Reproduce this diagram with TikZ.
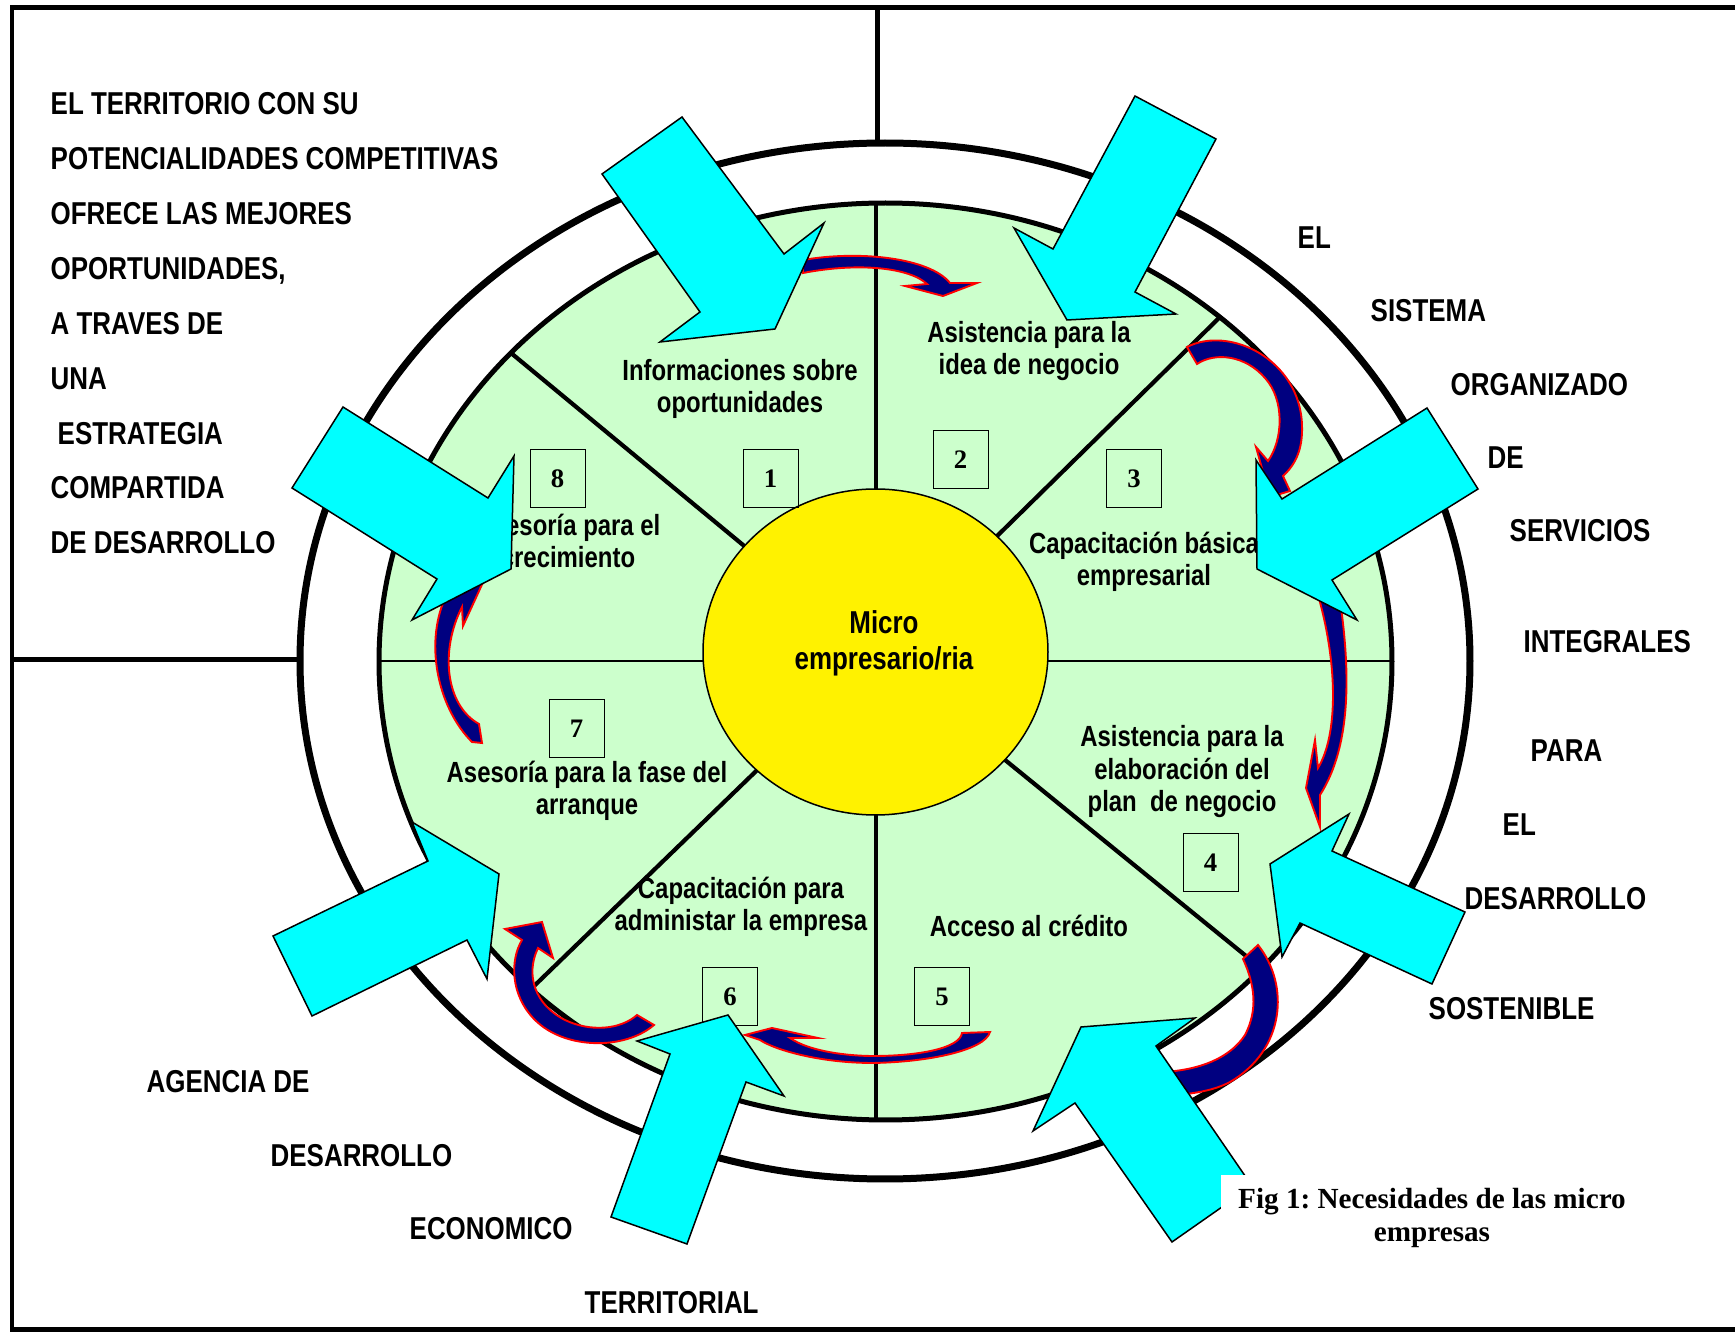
\documentclass[tikz,border=0pt]{standalone}
\usepackage{fontspec}
\setmainfont{Liberation Sans}[FakeStretch=0.82]
\newfontfamily\figfont{Liberation Serif}
\usetikzlibrary{shapes.geometric}

\definecolor{sectorgreen}{HTML}{CCFFCC}
\definecolor{pushcyan}{HTML}{00FFFF}
\definecolor{turnnavy}{HTML}{000080}

\tikzset{
  ring/.style={draw=black, line width=0.7mm},
  divider/.style={draw=black, line width=0.42mm},
  pusharrow/.style={fill=pushcyan, draw=black, line width=0.15mm, line join=miter},
  turnarrow/.style={fill=turnnavy, draw=red, line width=0.19mm, line join=miter},
  numbox/.style={draw=black, line width=0.1mm, minimum width=5.5mm, minimum height=5.8mm,
    inner sep=0pt, font={\figfont\fontsize{7.6}{8}\selectfont\bfseries}},
  needtext/.style={align=center, anchor=base, inner sep=0pt,
    font={\fontsize{8.3}{9.25}\selectfont\bfseries}},
  sidetext/.style={anchor=base west, inner sep=0pt,
    font={\fontsize{9}{10}\selectfont\bfseries}}
}

\begin{document}
\begin{tikzpicture}[x=0.1mm, y=-0.1mm]
\useasboundingbox (0,0) rectangle (1735,1333);

% frame and the two separators
\draw[line width=0.5mm] (1745,8) -- (12,8) -- (12,1329) -- (1745,1329);
\draw[line width=0.5mm] (877,8) -- (877,160);
\draw[line width=0.5mm] (12,660) -- (310,660);

% the two rings
\draw[ring, fill=white] (885,661) ellipse [x radius=58.5mm, y radius=51.8mm];
\draw[ring, fill=sectorgreen, line width=0.5mm] (885.5,661.5) ellipse [x radius=50.65mm, y radius=45.85mm];

% eight sectors
\coordinate (hub) at (876,655);
\draw[divider] (876,203) -- (876,1118);
\draw[line width=0.2mm] (379,661) -- (1392,661);
\draw[divider] (hub) -- (511,353);
\draw[divider] (hub) -- (1220,317);
\draw[divider] (hub) -- (1262,969);
\draw[divider] (hub) -- (531,989);

\node[draw=black, line width=0.15mm, fill=yellow, ellipse, minimum width=34.5mm,
  minimum height=32.6mm, inner sep=0pt] (disc) at (875.5,652) {};
\node[align=center, inner sep=0pt, font={\fontsize{9}{10.2}\selectfont\bfseries}]
  (micro) at (884,643) {Micro\\empresario/ria};

% needs (base = last line)
\node[needtext] (need1) at (740,413) {Informaciones sobre\\oportunidades};
\node[needtext] (need2) at (1029,375) {Asistencia para la\\idea de negocio};
\node[needtext] (need3) at (1144,586) {Capacitación básica\\empresarial};
\node[needtext] (need4) at (1182,812) {Asistencia para la\\elaboración del\\plan\ \ de negocio};
\node[needtext] (need5) at (1029,937) {Acceso al crédito};
\node[needtext] (need6) at (741,931) {Capacitación para\\administar la empresa};
\node[needtext] (need7) at (587,815) {Asesoría para la fase del\\arranque};
\node[needtext] (need8) at (568,568) {Asesoría para el\\crecimiento};

\node[numbox] (num1) at (770.5,479) {1};
\node[numbox] (num2) at (960.5,459.5) {2};
\node[numbox] (num3) at (1134,479) {3};
\node[numbox] (num4) at (1210.5,863) {4};
\node[numbox] (num5) at (942,997) {5};
\node[numbox] (num6) at (730,997) {6};
\node[numbox] (num7) at (576.5,728.5) {7};
\node[numbox] (num8) at (557.5,479) {8};

% turning arrows from one need to the next
\draw[turnarrow] (803,260) .. controls (860,250) and (930,258) .. (950,283) -- (977,283)
  -- (943,296) -- (905,286) -- (927,284) .. controls (910,268) and (860,262) .. (803,273) -- cycle;
\draw[turnarrow] (1187,347) .. controls (1230,325) and (1300,360) .. (1302,425)
  .. controls (1303,450) and (1295,465) .. (1283,476) -- (1290,491) -- (1270,497)
  -- (1256,447) -- (1268,461) .. controls (1283,440) and (1285,400) .. (1265,378)
  .. controls (1245,355) and (1215,352) .. (1197,364) -- cycle;
\draw[turnarrow] (1318,595) -- (1340,600) .. controls (1350,670) and (1352,745) .. (1320,795)
  -- (1320,827) -- (1306,788) -- (1315,740) -- (1318,768)
  .. controls (1338,735) and (1338,665) .. (1318,595) -- cycle;
\draw[turnarrow] (1243,959) -- (1258,945) .. controls (1290,985) and (1285,1050) .. (1230,1082)
  .. controls (1215,1090) and (1195,1094) .. (1165,1096) -- (1163,1072)
  .. controls (1200,1070) and (1230,1058) .. (1245,1035)
  .. controls (1258,1010) and (1255,985) .. (1243,959) -- cycle;
\draw[turnarrow] (962,1033) -- (990,1032) .. controls (985,1050) and (930,1062) .. (873,1063)
  .. controls (820,1063) and (775,1050) .. (760,1040) -- (745,1035) -- (772,1028)
  -- (818,1038) -- (790,1038) .. controls (810,1052) and (850,1056) .. (873,1056)
  .. controls (920,1056) and (960,1048) .. (962,1033) -- cycle;
\draw[turnarrow] (637,1015) -- (654,1025) .. controls (625,1050) and (565,1050) .. (535,1020)
  .. controls (510,995) and (510,960) .. (522,940) -- (505,929) -- (542,922)
  -- (553,958) -- (538,948) .. controls (525,975) and (535,1005) .. (565,1020)
  .. controls (590,1032) and (620,1030) .. (637,1015) -- cycle;
\draw[turnarrow] (472,742) .. controls (440,710) and (425,650) .. (443,603) -- (438,590)
  -- (485,578) -- (463,626) -- (462,607) .. controls (440,650) and (445,705) .. (479,724)
  -- (482,743) -- cycle;

% block arrows pushing in from outside
\draw[pusharrow] (682,117) -- (784,254) -- (824,223) -- (775,329) -- (660,342) -- (700,312) -- (602,174) -- cycle;
\draw[pusharrow] (1135,96) -- (1216,139) -- (1135,292) -- (1176,314) -- (1067,320) -- (1014,228) -- (1053,249) -- cycle;
\draw[pusharrow] (1427,408) -- (1478,489) -- (1332,580) -- (1357,620) -- (1257,569) -- (1256,460) -- (1282,499) -- cycle;
\draw[pusharrow] (1465,912) -- (1332,851) -- (1349,814) -- (1270,864) -- (1282,957) -- (1300,923) -- (1432,984) -- cycle;
\draw[pusharrow] (1252,1186) -- (1156,1046) -- (1195,1018) -- (1081,1027) -- (1033,1131) -- (1075,1103) -- (1172,1242) -- cycle;
\draw[pusharrow] (611,1217) -- (670,1054) -- (637,1041) -- (728,1015) -- (784,1096) -- (746,1082) -- (687,1244) -- cycle;
\draw[pusharrow] (273,936) -- (428,861) -- (412,822) -- (499,874) -- (487,979) -- (467,940) -- (312,1016) -- cycle;
\draw[pusharrow] (343,407) -- (488,498) -- (514,456) -- (511,569) -- (412,620) -- (437,579) -- (292,488) -- cycle;

% territory
\node[sidetext] (terr1) at (50,115) {EL TERRITORIO CON SU};
\node[sidetext] (terr2) at (50,170) {POTENCIALIDADES COMPETITIVAS};
\node[sidetext] (terr3) at (50,225) {OFRECE LAS MEJORES};
\node[sidetext] (terr4) at (50,280) {OPORTUNIDADES,};
\node[sidetext] (terr5) at (50,335) {A TRAVES DE};
\node[sidetext] (terr6) at (50,390) {UNA};
\node[sidetext] (terr7) at (57,445) {ESTRATEGIA};
\node[sidetext] (terr8) at (50,499) {COMPARTIDA};
\node[sidetext] (terr9) at (50,554) {DE DESARROLLO};

% service system
\node[sidetext] (serv1) at (1297,249) {EL};
\node[sidetext] (serv2) at (1370,322) {SISTEMA};
\node[sidetext] (serv3) at (1450,396) {ORGANIZADO};
\node[sidetext] (serv4) at (1487,469) {DE};
\node[sidetext] (serv5) at (1509,542) {SERVICIOS};
\node[sidetext] (serv6) at (1523,653) {INTEGRALES};
\node[sidetext] (serv7) at (1530,762) {PARA};
\node[sidetext] (serv8) at (1502,836) {EL};
\node[sidetext] (serv9) at (1464,910) {DESARROLLO};
\node[sidetext] (serv10) at (1428,1020) {SOSTENIBLE};

% development agency
\node[sidetext] (agen1) at (146,1093) {AGENCIA DE};
\node[sidetext] (agen2) at (270,1167) {DESARROLLO};
\node[sidetext] (agen3) at (409,1240) {ECONOMICO};
\node[sidetext] (agen4) at (584,1313) {TERRITORIAL};

\node[fill=white, inner sep=0pt, minimum width=42.2mm, minimum height=8.6mm, align=center,
  font={\figfont\fontsize{8.3}{9.4}\selectfont\bfseries\frenchspacing}]
  (figcap) at (1432,1218) {Fig 1: Necesidades de las micro\\empresas};

\end{tikzpicture}
\end{document}
